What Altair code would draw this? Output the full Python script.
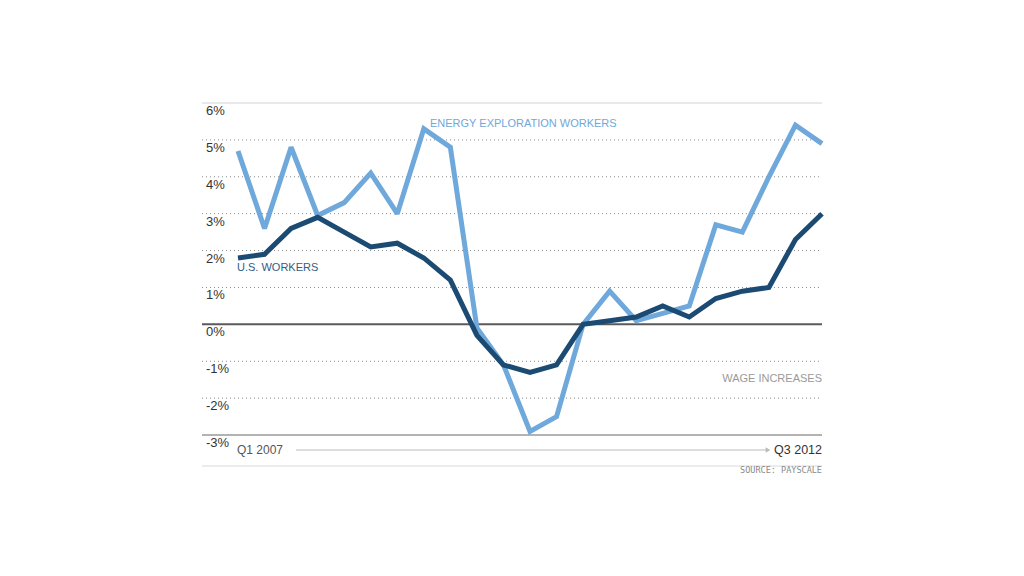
import altair as alt
import pandas as pd

quarters = list(range(23))  # Q1 2007 .. Q3 2012
energy = [4.7, 2.6, 4.8, 2.95, 3.3, 4.1, 3.0, 5.3, 4.8, -0.1, -1.1, -2.9, -2.5, 0.0,
          0.9, 0.1, 0.3, 0.5, 2.7, 2.5, 4.0, 5.4, 4.9]
us = [1.8, 1.9, 2.6, 2.9, 2.5, 2.1, 2.2, 1.8, 1.2, -0.3, -1.1, -1.3, -1.1, 0.0,
      0.1, 0.2, 0.5, 0.2, 0.7, 0.9, 1.0, 2.3, 3.0]
dotted_ticks = [5, 4, 3, 2, 1, -1, -2]
tick_values = [6, 5, 4, 3, 2, 1, 0, -1, -2, -3]
tick_labels = ["6%", "5%", "4%", "3%", "2%", "1%", "0%", "-1%", "-2%", "-3%"]

LIGHT = "#6fa8db"
DARK = "#1b4a72"
FONT = "Liberation Sans"

df = pd.DataFrame({
    "q": quarters * 2,
    "v": energy + us,
    "s": ["energy"] * 23 + ["us"] * 23,
})

W, H = 620, 380
xs = alt.Scale(domain=[-1.356, 22], nice=False, zero=False)
ys = alt.Scale(domain=[-4.3, 6], nice=False, zero=False)

grid_df = pd.DataFrame({"y": dotted_ticks})
dotted = alt.Chart(grid_df).mark_rule(color="#8a8a8a", strokeDash=[1, 3], strokeWidth=1).encode(
    y=alt.Y("y:Q", scale=ys, axis=None), x=alt.value(0), x2=alt.value(W))

top_rule = alt.Chart(pd.DataFrame({"y": [6]})).mark_rule(color="#e2e2e2", strokeWidth=1.5).encode(
    y=alt.Y("y:Q", scale=ys, axis=None), x=alt.value(0), x2=alt.value(W))
zero_rule = alt.Chart(pd.DataFrame({"y": [0]})).mark_rule(color="#5a5a5a", strokeWidth=2).encode(
    y=alt.Y("y:Q", scale=ys, axis=None), x=alt.value(0), x2=alt.value(W))
bottom_rule = alt.Chart(pd.DataFrame({"y": [-3]})).mark_rule(color="#9a9a9a", strokeWidth=1.5).encode(
    y=alt.Y("y:Q", scale=ys, axis=None), x=alt.value(0), x2=alt.value(W))
foot_rule = alt.Chart(pd.DataFrame({"y": [-3.84]})).mark_rule(color="#e6e6e6", strokeWidth=1.5).encode(
    y=alt.Y("y:Q", scale=ys, axis=None), x=alt.value(0), x2=alt.value(W))

labels_df = pd.DataFrame({"y": tick_values, "t": tick_labels})
ylabels = alt.Chart(labels_df).mark_text(
    align="left", baseline="middle", dy=8, fontSize=13, color="#333333", font=FONT
).encode(y=alt.Y("y:Q", scale=ys, axis=None), x=alt.value(4), text="t:N")

lines = alt.Chart(df).mark_line(strokeWidth=5, strokeJoin="miter", strokeMiterLimit=2).encode(
    x=alt.X("q:Q", scale=xs, axis=None),
    y=alt.Y("v:Q", scale=ys, axis=None),
    color=alt.Color("s:N", scale=alt.Scale(domain=["energy", "us"], range=[LIGHT, DARK]), legend=None),
)

def txt(text, x, y, align="left", size=11, color="#333333", font=FONT):
    return alt.Chart(pd.DataFrame({"t": [text]})).mark_text(
        align=align, baseline="middle", fontSize=size, color=color, font=font
    ).encode(text="t:N", x=alt.value(x), y=alt.value(y))

energy_lbl = txt("ENERGY EXPLORATION WORKERS", 228, 21, color=LIGHT, size=11)
us_lbl = txt("U.S. WORKERS", 35, 165, color="#2f5d86", size=11)
wage_lbl = txt("WAGE INCREASES", 620, 276, align="right", color="#9a9a9a", size=11)
q1_lbl = txt("Q1 2007", 35, 347, color="#555555", size=12)
q3_lbl = txt("Q3 2012", 620, 347, align="right", color="#333333", size=12.5)
src_lbl = txt("SOURCE: PAYSCALE", 620, 367, align="right", color="#8a8a8a", size=8.5,
              font="DejaVu Sans Mono")

arrow = alt.Chart(pd.DataFrame({"a": [0]})).mark_rule(color="#bbbbbb", strokeWidth=1).encode(
    x=alt.value(94), x2=alt.value(566), y=alt.value(347))
arrow_head = alt.Chart(pd.DataFrame({"a": [0]})).mark_point(
    shape="triangle-right", filled=True, color="#bbbbbb", size=30, opacity=1).encode(
    x=alt.value(566), y=alt.value(347))

chart = alt.layer(
    top_rule, dotted, foot_rule, bottom_rule, zero_rule, ylabels, lines,
    energy_lbl, us_lbl, wage_lbl, q1_lbl, q3_lbl, src_lbl, arrow, arrow_head
).properties(
    width=W, height=H,
    background="white",
    padding={"left": 194, "top": 95, "right": 5, "bottom": 5},
    autosize=alt.AutoSizeParams(type="none"),
).configure_view(stroke=None, strokeWidth=0)

chart.save("out.html", embed_options={"renderer": "svg", "actions": False})
